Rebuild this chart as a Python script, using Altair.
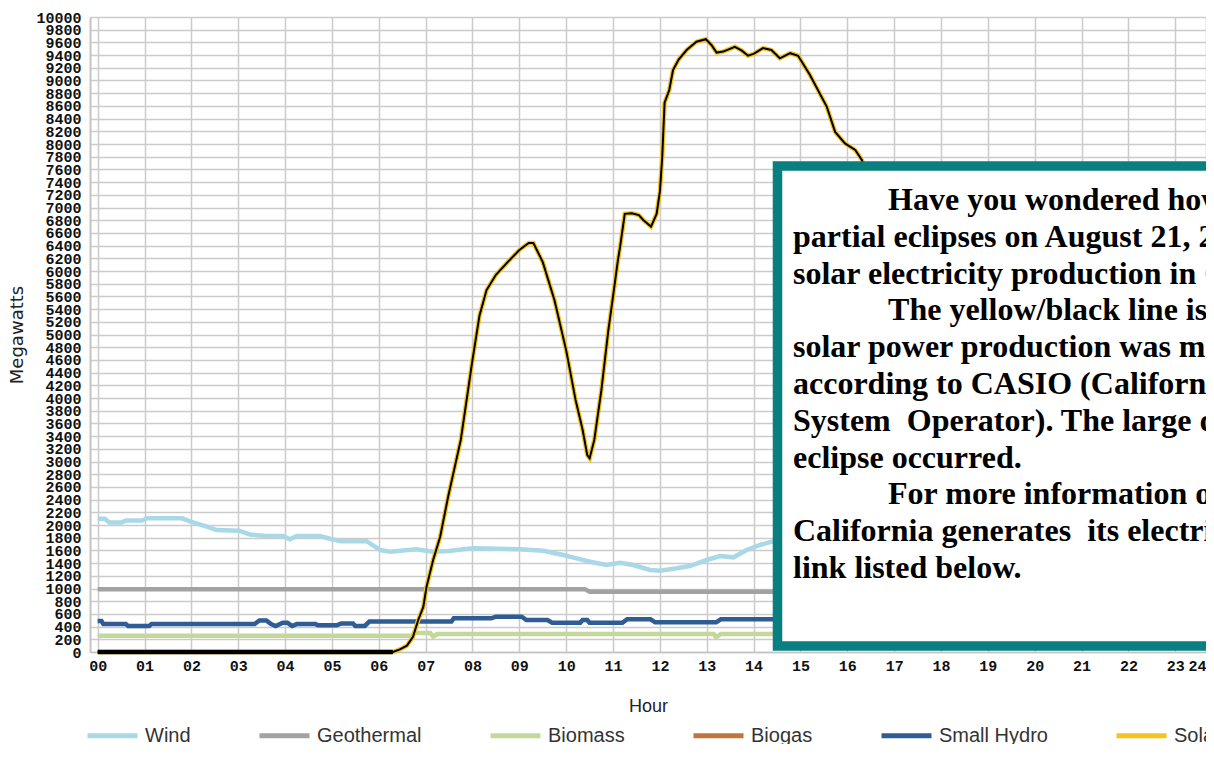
import altair as alt
import pandas as pd

# ---------------- data ----------------
series_names = ["Wind", "Geothermal", "Biomass", "Biogas", "Small Hydro", "Solar"]
series_colors = ["#a9d8e6", "#a2a2a2", "#c4d89c", "#c0763a", "#2f5c95", "#f4c41c"]

wind_h = [0.0, 0.15, 0.25, 0.5, 0.6, 0.95, 1.05, 1.8, 2.0, 2.33, 2.54, 3.02, 3.25, 3.6, 3.96,
          4.1, 4.25, 4.74, 5.0, 5.2, 5.74, 6.03, 6.24, 6.8, 7.16, 7.5, 7.8, 8.02, 9.01, 9.51,
          9.94, 10.22, 10.51, 10.86, 11.15, 11.43, 11.79, 12.0, 12.36, 12.64, 13.0, 13.28,
          13.57, 13.85, 14.14, 14.39, 14.6]
wind_mw = [2100, 2100, 2040, 2040, 2070, 2070, 2105, 2105, 2050, 1975, 1920, 1910, 1850, 1825, 1825,
           1775, 1825, 1825, 1775, 1745, 1745, 1605, 1580, 1617, 1580, 1590, 1617, 1633, 1617, 1595,
           1528, 1475, 1422, 1370, 1406, 1370, 1291, 1280, 1318, 1354, 1449, 1512,
           1491, 1606, 1685, 1737, 1760]

geo_h = [0.0, 10.4, 10.5, 14.6]
geo_mw = [990, 990, 950, 950]

biomass_h = [0.0, 6.7, 6.75, 7.1, 7.16, 7.25, 13.15, 13.2, 13.3, 14.6]
biomass_mw = [255, 255, 300, 300, 240, 283, 283, 230, 283, 283]

hydro_h = [0.0, 0.08, 0.12, 0.6, 0.65, 1.1, 1.15, 3.35, 3.45, 3.6, 3.7, 3.8, 3.95, 4.05, 4.15,
           4.25, 4.65, 4.7, 5.1, 5.2, 5.45, 5.5, 5.7, 5.8, 7.55, 7.6, 8.4, 8.5, 9.05, 9.15, 9.6,
           9.7, 10.3, 10.35, 10.45, 10.5, 11.2, 11.3, 11.8, 11.9, 13.2, 13.3, 14.6]
hydro_mw = [490, 490, 440, 440, 410, 410, 440, 440, 495, 495, 440, 410, 460, 460, 410,
            440, 440, 420, 420, 450, 450, 410, 410, 480, 480, 530, 530, 556, 556, 504, 504,
            460, 460, 504, 504, 460, 460, 515, 515, 468, 468, 515, 515]

solar_h = [0.0, 5.5, 6.3, 6.45, 6.6, 6.73, 6.84, 6.95, 7.02, 7.16, 7.31, 7.48, 7.75, 8.0, 8.15,
           8.3, 8.5, 8.75, 9.0, 9.2, 9.3, 9.5, 9.75, 10.0, 10.2, 10.35, 10.45, 10.5, 10.6, 10.75,
           10.9, 11.0, 11.1, 11.15, 11.25, 11.4, 11.55, 11.65, 11.81, 11.93, 12.0, 12.05, 12.1,
           12.2, 12.28, 12.4, 12.57, 12.78, 12.98, 13.1, 13.21, 13.35, 13.6, 13.75, 13.88, 14.0,
           14.2, 14.38, 14.56, 14.78, 14.95, 15.2, 15.56, 15.74, 15.95, 16.17, 16.31, 16.4]
solar_mw = [0, 0, 0, 40, 100, 240, 500, 710, 1030, 1450, 1815, 2445, 3340, 4600, 5300,
            5700, 5940, 6140, 6330, 6440, 6440, 6140, 5540, 4750, 3970, 3500, 3100, 3050, 3340, 4120,
            5070, 5600, 6150, 6380, 6900, 6910, 6880, 6800, 6700, 6900, 7250, 7800, 8650,
            8850, 9165, 9330, 9480, 9610, 9650, 9560, 9440, 9455, 9530, 9470, 9390, 9420,
            9510, 9480, 9350, 9430, 9390, 9090, 8590, 8190, 8010, 7905, 7750, 7550]

hour_ticks = list(range(0, 24))
mw_ticks = list(range(0, 10001, 200))

NB = "\u00a0"
box_texts = [
    "Have you wondered how the",
    "partial eclipses on August 21, 2017 affected",
    "solar electricity production in California?",
    "The yellow/black line is how",
    "solar power production was maintained",
    "according to CASIO (California Independent",
    "System" + NB + " Operator). The large dip is when the",
    "eclipse occurred.",
    "For more information on how",
    "California generates" + NB + " its electricity, see the",
    "link listed below.",
]
box_indent = [1, 0, 0, 1, 0, 0, 0, 0, 1, 0, 0]

# ---------------- tables ----------------
rows = []
for name, hs, vs in [("Wind", wind_h, wind_mw), ("Geothermal", geo_h, geo_mw),
                     ("Biomass", biomass_h, biomass_mw), ("Small Hydro", hydro_h, hydro_mw),
                     ("Solar", solar_h, solar_mw)]:
    for h, v in zip(hs, vs):
        rows.append({"series": name, "hour": h, "mw": v})
df = pd.DataFrame(rows)
solar_df = pd.DataFrame({"hour": solar_h, "mw": solar_mw})
solar_night = solar_df[solar_df["hour"] <= 6.3]

x_end = 23.656
box_df = pd.DataFrame({"x": [14.51], "x2": [30.0], "y": [7654], "y2": [94]})
text_df = pd.DataFrame({"line": list(range(len(box_texts))), "t": box_texts, "indent": box_indent})

x_scale = alt.Scale(domain=[-0.164, x_end], nice=False, zero=False)
y_scale = alt.Scale(domain=[0, 10000], nice=False)

x_axis = alt.Axis(
    values=hour_ticks + [x_end],
    labelExpr="datum.value > 23.5 ? '24' : (datum.value < 10 ? '0' + datum.value : '' + datum.value)",
    title="Hour", grid=True, gridColor="#cbcbcb", gridWidth=1.5, ticks=False,
    domainColor="#c4c4c4", domainWidth=1.5, labelOverlap=False,
    labelFont="Liberation Mono", labelFontWeight="bold", labelFontSize=15, labelColor="#111",
    labelPadding=6, labelFlush=True,
    titleFont="Liberation Sans", titleFontSize=18, titleFontWeight="normal", titleColor="#222",
    titlePadding=24,
)
y_axis = alt.Axis(
    values=mw_ticks, format="d", title="Megawatts", grid=True, gridColor="#cbcbcb", gridWidth=1.5,
    ticks=False, domainColor="#c4c4c4", domainWidth=2, labelOverlap=False,
    labelFont="Liberation Mono", labelFontWeight="bold", labelFontSize=15, labelColor="#111",
    labelPadding=9,
    titleFont="DejaVu Sans", titleFontSize=18, titleFontWeight="normal", titleColor="#222",
    titlePadding=9,
)

X = alt.X("hour:Q", scale=x_scale, axis=x_axis)
Y = alt.Y("mw:Q", scale=y_scale, axis=y_axis)

lines = alt.Chart(df).mark_line(strokeWidth=4.5).encode(
    x=X, y=Y,
    color=alt.Color(
        "series:N",
        scale=alt.Scale(domain=series_names, range=series_colors),
        legend=alt.Legend(
            orient="none", legendX=-5, legendY=691, direction="horizontal", title=None,
            symbolType="stroke", symbolSize=2500, symbolStrokeWidth=5,
            labelFont="Liberation Sans", labelFontSize=20, labelColor="#333",
            labelOffset=5, columnPadding=58, labelLimit=0,
        ),
    ),
)

solar_black = alt.Chart(solar_df).mark_line(color="black", strokeWidth=2).encode(x=X, y=Y)
solar_black_night = alt.Chart(solar_night).mark_line(color="black", strokeWidth=4.5).encode(x=X, y=Y)

box = alt.Chart(box_df).mark_rect(fill="white", stroke="#0a7f7f", strokeWidth=9.5).encode(
    x=alt.X("x:Q", scale=x_scale, axis=x_axis), x2="x2:Q",
    y=alt.Y("y:Q", scale=y_scale, axis=y_axis), y2="y2:Q",
)

# note lines: left margin at hour 14.841, indent of ~95 px, first baseline at 6961 MW,
# line pitch of 36.8 px (= 579.5 MW on this scale)
text = alt.Chart(text_df).transform_calculate(
    tx="14.841 + datum.indent * 2.029",
    ty="6961 - datum.line * 579.5",
).mark_text(
    align="left", baseline="alphabetic",
    font="Liberation Serif", fontWeight="bold", fontSize=32, color="black",
).encode(
    x=alt.X("tx:Q", scale=x_scale, axis=x_axis),
    y=alt.Y("ty:Q", scale=y_scale, axis=y_axis),
    text="t:N",
)

chart = alt.layer(lines, solar_black_night, solar_black, box, text).properties(
    width=1116, height=635,
    autosize=alt.AutoSizeParams(type="none"),
    padding={"left": 82, "top": 9, "right": 0, "bottom": 92},
).configure_view(strokeWidth=0).configure_axis(labelOverlap=False)

chart.save("out.html", embed_options={"renderer": "svg", "actions": False})
